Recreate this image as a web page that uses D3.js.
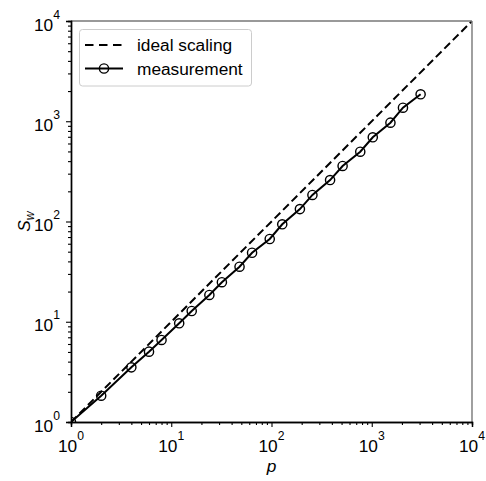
<!DOCTYPE html>
<html>
<head>
<meta charset="utf-8">
<script src="https://cdn.jsdelivr.net/npm/d3@7"></script>
<style>
  body { margin: 0; background: #fff; }
  text { font-family: Arial, "Liberation Sans", sans-serif; fill: #000; }
</style>
</head>
<body>
<div id="chart"></div>
<script>
// processor counts and measured speedup
const procs = [1, 2, 4, 6, 8, 12, 16, 24, 32, 48, 64, 96, 128, 192, 256, 384, 512, 768, 1024, 1536, 2048, 3072];
const speedup = [1, 1.83, 3.51, 5.03, 6.58, 9.65, 12.8, 18.5, 24.8, 35.4, 48.8, 66.9, 93.8, 133, 184, 259, 358, 497, 692, 968, 1365, 1858];
const idealP = [1, 10000];
const majorTicks = [1, 10, 100, 1000, 10000];
const legendLabels = ["ideal scaling", "measurement"];

const W = 486, H = 481;
const margin = {left: 71, right: 14, top: 21, bottom: 59};
const x0 = margin.left, x1 = W - margin.right, y0 = margin.top, y1 = H - margin.bottom;
const fs = 17.3;

const svg = d3.select("#chart").append("svg").attr("width", W).attr("height", H);

const x = d3.scaleLog().domain([1, 10000]).range([x0, x1]);
const y = d3.scaleLog().domain([1, 10000]).range([y1, y0]);

let minorTicks = [];
for (let d = 1; d < 10000; d *= 10) {
    for (let k = 2; k < 10; k++) minorTicks.push(d * k);
}

svg.append("clipPath").attr("id", "clip")
    .append("rect").attr("x", x0).attr("y", y0).attr("width", x1 - x0).attr("height", y1 - y0);

const plot = svg.append("g").attr("clip-path", "url(#clip)");

// ideal line
plot.append("path")
    .datum(idealP)
    .attr("d", d3.line().x(d => x(d)).y(d => y(d)))
    .attr("fill", "none")
    .attr("stroke", "#000")
    .attr("stroke-width", 2)
    .attr("stroke-dasharray", "8,4");

// measurement
plot.append("path")
    .datum(procs.map((p, i) => [p, speedup[i]]))
    .attr("d", d3.line().x(d => x(d[0])).y(d => y(d[1])))
    .attr("fill", "none")
    .attr("stroke", "#000")
    .attr("stroke-width", 2);

plot.selectAll("circle.pt")
    .data(procs.map((p, i) => [p, speedup[i]]))
    .enter()
    .append("circle")
    .attr("class", "pt")
    .attr("cx", d => x(d[0]))
    .attr("cy", d => y(d[1]))
    .attr("r", 4.6)
    .attr("fill", "none")
    .attr("stroke", "#000")
    .attr("stroke-width", 1.4);

// spines: top/right grey
svg.append("line").attr("x1", x0).attr("x2", x1).attr("y1", y0).attr("y2", y0)
    .attr("stroke", "#777").attr("stroke-width", 1.4);
svg.append("line").attr("x1", x1).attr("x2", x1).attr("y1", y0).attr("y2", y1)
    .attr("stroke", "#777").attr("stroke-width", 1.4);

// axes
const xMinor = d3.axisBottom(x).tickValues(minorTicks).tickSize(3).tickFormat("");
const xMajor = d3.axisBottom(x).tickValues(majorTicks).tickSize(5).tickFormat("");
const yMinor = d3.axisLeft(y).tickValues(minorTicks).tickSize(3).tickFormat("");
const yMajor = d3.axisLeft(y).tickValues(majorTicks).tickSize(5).tickFormat("");

function styleAxis(g) {
    g.selectAll("path.domain").attr("stroke", "#000").attr("stroke-width", 1.4);
    g.selectAll(".tick line").attr("stroke", "#000").attr("stroke-width", 1.1);
}

svg.append("g").attr("transform", `translate(0,${y1})`).call(xMinor).call(styleAxis);
svg.append("g").attr("transform", `translate(0,${y1})`).call(xMajor).call(styleAxis);
svg.append("g").attr("transform", `translate(${x0},0)`).call(yMinor).call(styleAxis);
svg.append("g").attr("transform", `translate(${x0},0)`).call(yMajor).call(styleAxis);

// tick labels like 10^k
function powLabel(sel, v) {
    const k = Math.round(Math.log10(v));
    sel.append("tspan").text("10");
    sel.append("tspan").attr("font-size", 12.2).attr("dy", -12).text(k);
}

majorTicks.forEach(v => {
    svg.append("text")
        .attr("x", x(v))
        .attr("y", y1 + 30)
        .attr("text-anchor", "middle")
        .attr("font-size", fs)
        .call(powLabel, v);
    svg.append("text")
        .attr("x", x0 - 11)
        .attr("y", y(v) + 9.5)
        .attr("text-anchor", "end")
        .attr("font-size", fs)
        .call(powLabel, v);
});

// axis labels
svg.append("text")
    .attr("x", (x0 + x1) / 2)
    .attr("y", 472)
    .attr("text-anchor", "middle")
    .attr("font-size", fs)
    .attr("font-style", "italic")
    .text("p");

const yl = svg.append("text")
    .attr("transform", `translate(30,${(y0 + y1) / 2}) rotate(-90)`)
    .attr("text-anchor", "middle")
    .attr("font-size", fs)
    .attr("font-style", "italic");
yl.append("tspan").text("S");
yl.append("tspan").attr("font-size", 12.2).attr("dy", 4).text("w");

// legend
const leg = svg.append("g");
leg.append("rect")
    .attr("x", 79.5).attr("y", 29.5).attr("width", 172).attr("height", 56.5)
    .attr("rx", 3).attr("fill", "#fff").attr("stroke", "#ccc").attr("stroke-width", 1);

const rowsY = [45, 68.5];
leg.append("line").attr("x1", 85).attr("x2", 123).attr("y1", rowsY[0]).attr("y2", rowsY[0])
    .attr("stroke", "#000").attr("stroke-width", 2).attr("stroke-dasharray", "8.5,5.5");
leg.append("line").attr("x1", 85).attr("x2", 123).attr("y1", rowsY[1]).attr("y2", rowsY[1])
    .attr("stroke", "#000").attr("stroke-width", 2);
leg.append("circle").attr("cx", 104).attr("cy", rowsY[1]).attr("r", 4.6)
    .attr("fill", "none").attr("stroke", "#000").attr("stroke-width", 1.4);

leg.selectAll("text.lab")
    .data(legendLabels)
    .enter()
    .append("text")
    .attr("class", "lab")
    .attr("x", 137)
    .attr("y", (d, i) => rowsY[i] + 6)
    .attr("font-size", fs)
    .text(d => d);
</script>
</body>
</html>
